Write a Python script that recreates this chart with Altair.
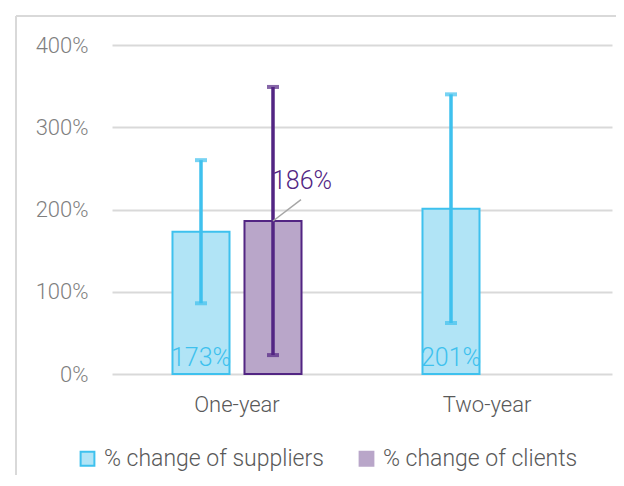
import altair as alt
import pandas as pd

# ---- data ----
categories = ["One-year", "One-year", "Two-year"]
series = ["% change of suppliers", "% change of clients", "% change of suppliers"]
values = [173, 186, 201]
err_low = [86, 23, 62]
err_high = [260, 349, 340]
label_text = ["173%", "186%", "201%"]

series_domain = ["% change of suppliers", "% change of clients"]
cat_domain = ["One-year", "Two-year"]
y_ticks = [0, 100, 200, 300, 400]

df = pd.DataFrame({
    "category": categories,
    "series": series,
    "value": values,
    "low": err_low,
    "high": err_high,
    "label": label_text,
})

FONT = "Roboto"
BLUE = "#3EC1EE"
PURPLE = "#522583"
BLUE_FILL = "#B1E4F6"
PURPLE_FILL = "#B9A6C9"
IS_SUP = "datum.series == '% change of suppliers'"

x_enc = alt.X("category:N", scale=alt.Scale(domain=cat_domain, paddingInner=0, paddingOuter=0),
              axis=alt.Axis(title=None, labelAngle=0, domain=False, ticks=False, labelPadding=20,
                            labelFontSize=22, labelColor="#595959", labelFont=FONT, labelFontWeight=300))
xo_enc = alt.XOffset("series:N", scale=alt.Scale(domain=series_domain, paddingInner=0.208, paddingOuter=0.84))
y_scale = alt.Scale(domain=[0, 400])
line_color = alt.condition(IS_SUP, alt.value(BLUE), alt.value(PURPLE))

base = alt.Chart(df)

bars = base.mark_bar(strokeWidth=2).encode(
    x=x_enc,
    xOffset=xo_enc,
    y=alt.Y("value:Q", scale=y_scale,
            axis=alt.Axis(title=None, values=y_ticks, labelExpr="datum.value + '%'", domain=False, ticks=False,
                          labelPadding=24, labelFontSize=22, labelColor="#7F7F7F", labelFont=FONT,
                          labelFontWeight=300, gridColor="#D9D9D9", gridWidth=2)),
    fill=alt.Fill("series:N", scale=alt.Scale(domain=series_domain, range=[BLUE_FILL, PURPLE_FILL]),
                  legend=alt.Legend(title=None, orient="none", legendX=-36, legendY=402, direction="horizontal",
                                    symbolType="square", symbolSize=190, symbolStrokeWidth=2,
                                    symbolStrokeColor={"expr": "datum.value == '% change of suppliers' ? '#3EC1EE' : '#B9A6C9'"},
                                    labelFontSize=23, labelColor="#595959", labelFont=FONT, labelFontWeight=300,
                                    labelOffset=5, columnPadding=31, labelLimit=400)),
    stroke=line_color,
)

err = base.mark_rule(strokeWidth=3.5).encode(
    x="category:N", xOffset="series:N",
    y=alt.Y("low:Q", scale=y_scale), y2="high:Q",
    color=line_color,
)
cap_hi = base.mark_tick(size=12, thickness=4, strokeWidth=0).encode(
    x="category:N", xOffset="series:N", y=alt.Y("high:Q", scale=y_scale), color=line_color
)
cap_lo = base.mark_tick(size=12, thickness=4, strokeWidth=0).encode(
    x="category:N", xOffset="series:N", y=alt.Y("low:Q", scale=y_scale), color=line_color
)

inner_labels = base.transform_filter(IS_SUP).mark_text(
    baseline="alphabetic", dy=-8, fontSize=25, font=FONT, fontWeight=300, color=BLUE
).encode(
    x="category:N", xOffset="series:N", y=alt.datum(0), text="label:N"
)

client_label = base.transform_filter("!(" + IS_SUP + ")").mark_text(
    baseline="bottom", dx=29, dy=-27, fontSize=25, font=FONT, fontWeight=300, color=PURPLE
).encode(
    x="category:N", xOffset="series:N", y=alt.Y("value:Q", scale=y_scale), text="label:N"
)

leader = base.transform_filter("!(" + IS_SUP + ")").transform_calculate(
    top="datum.value + 26"
).mark_rule(color="#A6A6A6", strokeWidth=1.5, x2Offset=64).encode(
    x="category:N", x2="category:N", xOffset="series:N",
    y=alt.Y("value:Q", scale=y_scale), y2="top:Q"
)

one = alt.Chart(pd.DataFrame({"a": [0]}))
border_top = one.mark_rule(color="#D9D9D9", strokeWidth=2).encode(
    x=alt.value(-96), x2=alt.value(700), y=alt.value(-29))
border_left = one.mark_rule(color="#D9D9D9", strokeWidth=2).encode(
    x=alt.value(-96), y=alt.value(-29), y2=alt.value(600))

chart = alt.layer(
    border_top, border_left, bars, err, cap_hi, cap_lo, inner_labels, leader, client_label
).properties(
    width=500, height=329,
    autosize=alt.AutoSizeParams(type="none"),
    padding={"left": 104, "top": 37, "right": 4, "bottom": 101},
).configure_view(stroke=None)

chart.save("out.html", embed_options={"renderer": "svg", "actions": False})
